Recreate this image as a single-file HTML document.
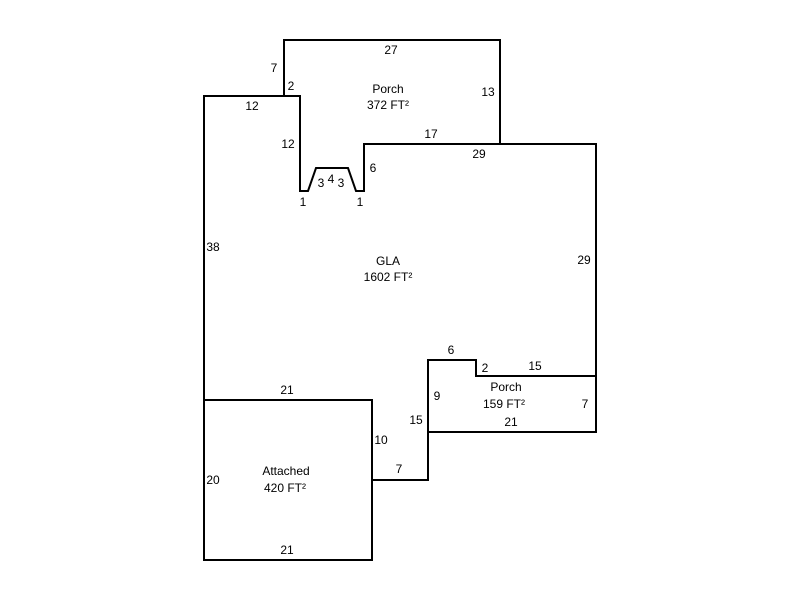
<!DOCTYPE html>
<html><head><style>body{margin:0;background:#fff}svg{display:block}text{font-family:"Liberation Sans",Arial,sans-serif;font-size:12px;fill:#000}</style></head><body>
<svg width="800" height="600" viewBox="0 0 800 600">
<g fill="none" stroke="#000" stroke-width="2">
<polyline points="284,96 284,40 500,40 500,144"/>
<polyline points="204,560 204,96 300,96 300,191 308,191 316,168 348,168 356,191 364,191 364,144 596,144 596,376 476,376 476,360 428,360 428,480 372,480 372,400 204,400"/>
<polyline points="596,376 596,432 428,432"/>
<polyline points="204,400 204,560 372,560 372,480"/>
<line x1="284" y1="96" x2="300" y2="96"/>
</g>
<g text-anchor="middle">
<text x="391" y="54">27</text>
<text x="274" y="72">7</text>
<text x="291" y="90">2</text>
<text x="388" y="93">Porch</text>
<text x="388" y="109">372 FT²</text>
<text x="488" y="96">13</text>
<text x="252" y="110">12</text>
<text x="288" y="148">12</text>
<text x="431" y="138">17</text>
<text x="479" y="158">29</text>
<text x="373" y="172">6</text>
<text x="321" y="187">3</text>
<text x="331" y="183">4</text>
<text x="341" y="187">3</text>
<text x="303" y="206">1</text>
<text x="360" y="206">1</text>
<text x="213" y="251">38</text>
<text x="388" y="265">GLA</text>
<text x="388" y="281">1602 FT²</text>
<text x="584" y="264">29</text>
<text x="451" y="354">6</text>
<text x="485" y="372">2</text>
<text x="535" y="370">15</text>
<text x="506" y="391">Porch</text>
<text x="504" y="408">159 FT²</text>
<text x="437" y="400">9</text>
<text x="585" y="408">7</text>
<text x="511" y="426">21</text>
<text x="416" y="424">15</text>
<text x="287" y="394">21</text>
<text x="381" y="444">10</text>
<text x="399" y="473">7</text>
<text x="286" y="475">Attached</text>
<text x="285" y="492">420 FT²</text>
<text x="213" y="484">20</text>
<text x="287" y="554">21</text>
</g>
</svg>
</body></html>
